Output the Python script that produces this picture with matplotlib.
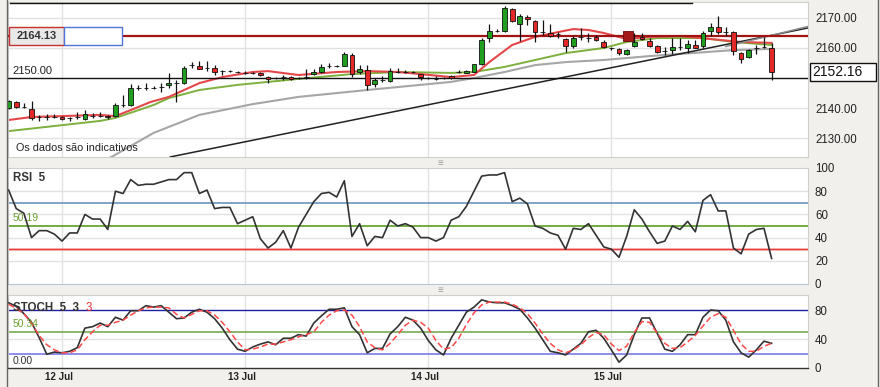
import matplotlib
matplotlib.use('Agg')
import matplotlib.pyplot as plt
from matplotlib.patches import Rectangle
import matplotlib.transforms as mtransforms
import numpy as np

# ---------------- data ----------------
# hourly candles; hour 0 = 12 Jul 00:00
candle_hour = list(range(-7, 94))
opens = [2140.0, 2142.0, 2140.4, 2139.7, 2137.0, 2137.1, 2137.0, 2137.0, 2136.8, 2136.9,
         2136.3, 2137.2, 2137.4, 2137.3, 2137.3, 2141.0, 2141.0, 2146.6, 2146.8, 2146.7,
         2146.9, 2147.7, 2148.3, 2148.3, 2154.2, 2154.0, 2153.3, 2153.3, 2152.3, 2152.4,
         2152.1, 2151.8, 2151.7, 2151.7, 2150.3, 2150.0, 2150.3, 2150.3, 2150.0, 2150.3,
         2151.3, 2152.0, 2154.0, 2154.0, 2154.0, 2157.7, 2152.0, 2152.7, 2148.0, 2149.3,
         2149.0, 2152.0, 2152.1, 2152.0, 2151.3, 2150.0, 2149.7, 2149.9, 2150.7, 2151.9,
         2151.8, 2152.0, 2154.7, 2163.3, 2165.6, 2165.7, 2173.0, 2168.0, 2170.3, 2169.0,
         2165.4, 2165.0, 2164.7, 2163.0, 2160.7, 2163.6, 2163.4, 2163.7, 2162.0, 2160.1,
         2159.7, 2158.0, 2160.7, 2163.7, 2162.3, 2160.7, 2159.0, 2159.3, 2160.3, 2160.0,
         2161.0, 2160.7, 2165.7, 2167.0, 2165.4, 2165.3, 2158.3, 2157.0, 2160.0, 2160.3,
         2160.0]
highs = [2142.6, 2142.3, 2141.7, 2142.3, 2137.7, 2138.0, 2137.9, 2137.3, 2137.0, 2138.7,
         2139.3, 2138.3, 2138.7, 2137.7, 2141.7, 2144.3, 2148.0, 2147.7, 2148.3, 2147.3,
         2148.3, 2151.7, 2149.3, 2154.0, 2155.3, 2155.7, 2155.7, 2154.3, 2152.7, 2152.7,
         2152.3, 2152.3, 2152.0, 2152.0, 2150.7, 2150.3, 2151.0, 2150.7, 2150.3, 2153.0,
         2153.0, 2154.7, 2155.0, 2154.3, 2158.7, 2158.3, 2154.3, 2154.3, 2150.0, 2150.7,
         2153.3, 2153.3, 2152.5, 2152.3, 2151.3, 2150.3, 2150.7, 2150.3, 2151.0, 2152.7,
         2152.7, 2154.7, 2163.3, 2168.0, 2166.3, 2174.0, 2173.3, 2171.3, 2171.0, 2169.3,
         2169.3, 2168.0, 2165.3, 2163.3, 2164.0, 2166.7, 2165.0, 2164.3, 2162.7, 2160.3,
         2160.0, 2159.7, 2165.0, 2165.0, 2163.3, 2161.0, 2160.3, 2163.3, 2163.3, 2162.7,
         2162.7, 2165.7, 2168.3, 2170.7, 2167.0, 2165.7, 2158.7, 2159.7, 2161.0, 2163.7,
         2161.7]
lows = [2139.8, 2140.0, 2140.0, 2136.0, 2135.7, 2135.9, 2136.6, 2136.0, 2135.7, 2136.3,
        2136.0, 2136.7, 2137.0, 2136.3, 2137.0, 2140.3, 2140.7, 2146.0, 2146.0, 2146.3,
        2145.3, 2146.7, 2142.0, 2148.0, 2153.3, 2153.0, 2152.3, 2151.0, 2151.0, 2152.0,
        2151.7, 2151.3, 2151.3, 2150.7, 2148.3, 2149.7, 2149.3, 2149.3, 2149.7, 2149.7,
        2151.0, 2151.7, 2153.3, 2153.7, 2154.0, 2150.3, 2151.3, 2146.0, 2147.0, 2148.7,
        2148.7, 2151.7, 2151.7, 2151.7, 2149.3, 2149.7, 2149.3, 2149.7, 2149.7, 2151.7,
        2151.7, 2152.0, 2154.3, 2162.0, 2165.3, 2165.3, 2168.7, 2162.3, 2167.7, 2162.0,
        2164.3, 2163.7, 2163.3, 2158.7, 2160.0, 2162.7, 2162.0, 2162.3, 2160.0, 2159.3,
        2157.7, 2157.7, 2160.3, 2162.7, 2160.3, 2158.3, 2157.7, 2158.0, 2159.3, 2158.3,
        2160.0, 2160.0, 2164.0, 2164.7, 2164.0, 2157.7, 2155.0, 2156.7, 2158.0, 2160.0,
        2149.3]
closes = [2142.3, 2140.3, 2140.2, 2136.7, 2137.1, 2137.0, 2137.1, 2136.3, 2136.6, 2137.1,
          2138.0, 2137.4, 2137.5, 2137.0, 2141.0, 2141.1, 2146.7, 2146.8, 2146.7, 2146.8,
          2147.0, 2148.3, 2148.4, 2153.3, 2154.4, 2153.0, 2153.4, 2152.0, 2152.4, 2152.3,
          2152.0, 2151.7, 2151.6, 2151.0, 2149.7, 2150.1, 2150.4, 2149.7, 2150.1, 2150.4,
          2152.0, 2153.7, 2154.1, 2154.1, 2158.0, 2151.3, 2153.0, 2147.7, 2149.3, 2149.4,
          2152.3, 2152.1, 2152.0, 2152.1, 2150.3, 2149.9, 2149.6, 2150.0, 2150.0, 2152.0,
          2152.4, 2154.7, 2162.7, 2165.7, 2165.7, 2173.3, 2169.0, 2170.7, 2169.7, 2165.3,
          2165.3, 2164.0, 2164.6, 2160.7, 2163.3, 2163.7, 2163.3, 2162.7, 2160.3, 2160.0,
          2158.3, 2159.3, 2162.0, 2163.0, 2160.7, 2158.7, 2159.1, 2160.3, 2160.4, 2161.3,
          2160.0, 2165.0, 2167.0, 2165.3, 2165.3, 2159.0, 2156.3, 2159.3, 2160.1, 2160.4,
          2152.16]

# moving averages (sampled at candle hours)
ma_fast_hour = [-7, -4, 0, 5, 7, 9, 11.6, 14, 18, 21, 25, 27, 31, 36, 40, 44, 47, 51, 54, 56, 59, 62, 65, 67, 69, 71, 74, 77, 81, 85, 89, 93]
ma_fast_val = [2136.0, 2137.0, 2137.3, 2137.7, 2137.3, 2139.3, 2142.0, 2143.7, 2148.3, 2150.3, 2152.0, 2152.3, 2151.0, 2152.0, 2152.3, 2152.0, 2151.3, 2150.3, 2151.0, 2155.3, 2161.0, 2163.7, 2165.3, 2166.3, 2166.0, 2165.0, 2163.0, 2163.7, 2164.0, 2163.0, 2162.0, 2161.7]
ma_mid_hour = [-7, 5, 7, 12, 14, 18, 23, 31, 38, 44, 51, 54, 58, 62, 66, 71, 74, 78, 84, 88, 93]
ma_mid_val = [2132.3, 2135.7, 2136.7, 2141.0, 2143.3, 2146.0, 2147.7, 2149.7, 2151.3, 2152.0, 2151.7, 2152.0, 2153.7, 2156.0, 2158.3, 2160.0, 2162.0, 2163.3, 2163.3, 2162.0, 2161.0]
ma_slow_hour = [6, 12, 18, 25, 31, 40, 51, 54, 58, 62, 66, 71, 77, 88, 93]
ma_slow_val = [2123.0, 2131.7, 2137.7, 2141.3, 2143.7, 2146.0, 2148.7, 2150.0, 2152.0, 2154.3, 2155.3, 2156.0, 2157.3, 2159.3, 2159.7]

trend_hour = [14.2, 97.8]
trend_price = [2123.7, 2166.7]
trend2_hour = [87.0, 97.8]
trend2_price = [2160.5, 2167.2]
resist_hour = [-6.8, 82.6]
resist_price = [2175.0, 2175.0]
level_line = 2164.13
level_2150 = 2150.0
marker_hour = 74.2
last_price = 2152.16

rsi = [81, 65, 61, 40, 46, 46, 43, 37, 44, 44, 60, 56, 56, 47, 80, 78, 90, 85, 86, 86,
       88, 90, 90, 96, 96, 78, 81, 65, 66, 66, 52, 55, 58, 39, 31, 36, 46, 31, 49, 60,
       71, 78, 79, 75, 89, 41, 52, 33, 41, 40, 55, 50, 52, 49, 40, 40, 37, 40, 55, 58,
       67, 80, 93, 94, 94, 96, 71, 74, 69, 50, 48, 44, 42, 30, 48, 47, 52, 42, 32, 30,
       23, 41, 64, 56, 45, 35, 37, 50, 47, 54, 45, 72, 77, 63, 63, 31, 26, 43, 47, 48, 22]
stoch_k = [90, 85, 75, 63, 42, 19, 22, 21, 23, 28, 55, 57, 62, 57, 70, 66, 79, 79, 86, 84,
           86, 77, 68, 69, 77, 81, 77, 68, 55, 39, 26, 23, 29, 33, 36, 32, 41, 41, 46, 44,
           62, 72, 81, 81, 83, 57, 46, 21, 27, 27, 47, 57, 70, 66, 55, 38, 25, 18, 41, 59,
           77, 84, 94, 91, 90, 90, 86, 81, 69, 55, 39, 23, 21, 18, 26, 34, 50, 52, 41, 25,
           8, 18, 46, 69, 69, 48, 26, 23, 32, 46, 46, 70, 80, 79, 66, 36, 21, 15, 25, 37, 34]
stoch_d = [88, 82, 75, 62, 45, 32, 25, 21, 21, 25, 39, 50, 59, 59, 63, 66, 73, 79, 83, 84,
           84, 83, 74, 69, 74, 79, 79, 73, 63, 50, 36, 25, 26, 29, 33, 33, 36, 39, 43, 46,
           50, 63, 73, 79, 80, 73, 57, 36, 28, 25, 34, 46, 59, 66, 63, 55, 38, 26, 28, 41,
           60, 76, 87, 91, 91, 91, 88, 83, 75, 62, 47, 34, 25, 21, 25, 32, 42, 49, 46, 33,
           24, 30, 49, 64, 63, 48, 34, 27, 28, 36, 45, 58, 70, 75, 70, 52, 33, 23, 23, 30, 34]
rsi_label = "50.19"
stoch_label = "50.34"
day_labels = ["12 Jul", "13 Jul", "14 Jul", "15 Jul"]
day_hours = [0, 24, 48, 72]
main_ticks = [2130, 2140, 2160, 2170]
rsi_ticks = [0, 20, 40, 60, 80, 100]
stoch_ticks = [0, 40, 80]

# ---------------- figure ----------------
W, H = 880, 387
plt.rcParams['font.family'] = ['Liberation Sans', 'DejaVu Sans']
fig = plt.figure(figsize=(W / 100, H / 100), dpi=100)
fig.patch.set_facecolor('#f1f0ec')


def rect(l, t, r, b):
    return [l / W, 1 - b / H, (r - l) / W, (b - t) / H]


ax = fig.add_axes(rect(8, 2, 808, 157))
ax_r = fig.add_axes(rect(8, 168, 808, 284), sharex=ax)
ax_s = fig.add_axes(rect(8, 295, 808, 368), sharex=ax)

GRID = '#e2e2e2'
for a in (ax, ax_r, ax_s):
    a.set_facecolor('white')
    for s in a.spines.values():
        s.set_color('#cfcfcf')
        s.set_linewidth(0.8)
    a.yaxis.tick_right()
    a.tick_params(axis='y', length=0, pad=5, labelsize=8.3, colors='#222222')
    a.tick_params(axis='x', length=0, labelbottom=False)
    for dh in day_hours:
        a.axvline(dh, color=GRID, lw=1.0, zorder=0)

ax.set_xlim(-7.08, 97.77)
ax.set_ylim(2123.67, 2175.33)
ax_r.set_ylim(0, 100)
ax_s.set_ylim(0, 100.7)

# main panel
ax.set_yticks(main_ticks)
ax.set_yticklabels([f"{v:.2f}" for v in main_ticks])
for v in main_ticks:
    ax.axhline(v, color=GRID, lw=1.0, zorder=0)

x = np.array(candle_hour, dtype=float)
o = np.array(opens); hi = np.array(highs); lo = np.array(lows); c = np.array(closes)
up = c >= o
body_bot = np.minimum(o, c)
body_h = np.maximum(np.abs(c - o), 0.08)
cols = np.where(up, '#1f9e1f', '#e42828')

ax.plot(ma_slow_hour, ma_slow_val, color='#a6a6a6', lw=1.5, zorder=2)
ax.plot(ma_mid_hour, ma_mid_val, color='#7db03c', lw=1.4, zorder=2)
ax.plot(ma_fast_hour, ma_fast_val, color='#e4474a', lw=1.5, zorder=2)
ax.plot(trend_hour, trend_price, color='#222222', lw=1.1, zorder=3)
ax.plot(trend2_hour, trend2_price, color='#8a8a8a', lw=1.1, zorder=3)
ax.plot(resist_hour, resist_price, color='#111111', lw=1.0, zorder=3)
ax.axhline(level_2150, color='#111111', lw=1.0, zorder=3)
ax.axhline(level_line, color='#a01414', lw=1.6, zorder=3)

ax.vlines(x, lo, hi, color='#111111', lw=0.9, zorder=4)
ax.bar(x, body_h, 0.62, bottom=body_bot, color=cols, edgecolor='#111111', lw=0.6, zorder=5)
ax.plot([marker_hour], [level_line], marker='s', ms=7, color='#a31818',
        mec='#6a0c0c', mew=0.6, zorder=6)

# label box for 2164.13
tr = mtransforms.blended_transform_factory(ax.transAxes, ax.transData)
px_w = 1 / 800.0
py = (2175.33 - 2123.67) / 155.0
ax.add_patch(Rectangle((0.5 * px_w, level_line - 9 * py), 55 * px_w, 18 * py, transform=tr,
                       facecolor='#e9e9e9', edgecolor='#c83030', lw=1.0, zorder=7, clip_on=False))
ax.add_patch(Rectangle((55.5 * px_w, level_line - 9 * py), 58 * px_w, 18 * py, transform=tr,
                       facecolor='white', edgecolor='#4f74dc', lw=1.0, zorder=7, clip_on=False))
ax.text(9 * px_w, level_line, f"{level_line:.2f}", transform=tr, fontsize=8, color='#333333',
        fontweight='bold', va='center', ha='left', zorder=8)
ax.text(4 * px_w, level_2150 + 6.5 * py, f"{level_2150:.2f}", transform=tr, fontsize=8,
        color='#222222', va='center', ha='left', zorder=8)
ax.text(8 * px_w, 2130 - 10 * py, "Os dados são indicativos", transform=tr,
        fontsize=7.8, color='#222222', va='center', ha='left', zorder=8)

# last price box on right
ax.add_patch(Rectangle((801.5 / 800.0, last_price - 9 * py), 66 / 800.0, 18 * py, transform=tr,
                       facecolor='white', edgecolor='#111111', lw=1.0, zorder=10, clip_on=False))
ax.text(804 / 800.0, last_price, f"{last_price:.2f}", transform=tr, fontsize=10,
        color='#111111', va='center', ha='left', zorder=11)

# RSI panel
ax_r.set_yticks(rsi_ticks)
for v in (20, 40, 60, 80):
    ax_r.axhline(v, color=GRID, lw=1.0, zorder=0)
ax_r.axhline(70, color='#6a96bb', lw=1.2, zorder=1)
ax_r.axhline(50, color='#5a9e22', lw=1.2, zorder=1)
ax_r.axhline(30, color='#f07070', lw=2.2, alpha=0.35, zorder=1)
ax_r.axhline(30, color='#e83a3a', lw=1.0, zorder=1)
ax_r.spines['bottom'].set_color('#b8c6d6')
ax_r.plot(x, rsi, color='#333333', lw=1.2, zorder=3)
ax_r.text(5 / 800, 0.965, "RSI  5", transform=ax_r.transAxes, fontsize=8.3, color='#333333',
          fontweight='bold', va='top', ha='left')
ax_r.text(5 / 800, 56.5, rsi_label, transform=mtransforms.blended_transform_factory(ax_r.transAxes, ax_r.transData),
          fontsize=7.5, color='#6aa030', va='center', ha='left')

# STOCH panel
ax_s.set_yticks(stoch_ticks)
ax_s.axhline(40, color=GRID, lw=1.0, zorder=0)
ax_s.axhline(80, color='#1e1ea0', lw=1.0, zorder=1)
ax_s.axhline(50, color='#78aa50', lw=1.2, zorder=1)
ax_s.axhline(20, color='#7a7ae6', lw=1.2, zorder=1)
ax_s.spines['bottom'].set_color('#333333')
ax_s.spines['bottom'].set_linewidth(1.0)
ax_s.plot(x, stoch_k, color='#333333', lw=1.2, zorder=3)
ax_s.plot(x, stoch_d, color='#ff4a4a', lw=1.1, dashes=(4, 2), zorder=3)
trs = mtransforms.blended_transform_factory(ax_s.transAxes, ax_s.transData)
t1 = ax_s.text(5 / 800, 0.91, "STOCH  5  3  ", transform=ax_s.transAxes, fontsize=8.3,
               color='#333333', fontweight='bold', va='top', ha='left')
ax_s.text(5 / 800, 60.5, stoch_label, transform=trs, fontsize=7.5, color='#6aa030',
          va='center', ha='left')
ax_s.text(5 / 800, 9.5, "0.00", transform=trs, fontsize=7.5, color='#333333',
          va='center', ha='left')
fig.canvas.draw()
bb = t1.get_window_extent()
inv = ax_s.transAxes.inverted()
xr = inv.transform((bb.x1, bb.y1))[0]
ax_s.text(xr, 0.91, "3", transform=ax_s.transAxes, fontsize=8.3, color='#e83030',
          va='top', ha='left')

trx = mtransforms.blended_transform_factory(ax_s.transData, ax_s.transAxes)
for lab, dh in zip(day_labels, day_hours):
    ax_s.text(dh - 0.4, -0.125, lab, transform=trx, fontsize=7, fontweight='bold',
              color='#222222', ha='center', va='center')

# chrome: separator handles and outer border lines
fig.text(440 / W, 1 - 163 / H, "≡", fontsize=7, color='#999999', ha='center', va='center')
fig.text(440 / W, 1 - 290 / H, "≡", fontsize=7, color='#999999', ha='center', va='center')
fig.add_artist(plt.Line2D([6.5 / W, 6.5 / W], [0, 1], color='#666666', lw=1.0))
fig.add_artist(plt.Line2D([877.5 / W, 877.5 / W], [0, 1], color='#666666', lw=1.0))

fig.savefig('out.png', dpi=100, facecolor=fig.get_facecolor())
